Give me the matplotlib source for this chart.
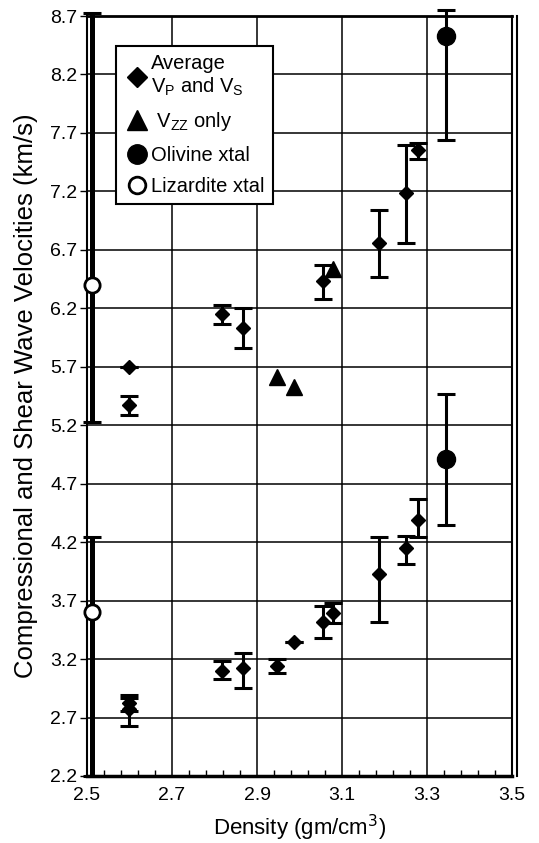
import numpy as np
import matplotlib.pyplot as plt
from matplotlib.lines import Line2D
from matplotlib.ticker import FixedLocator

plt.rcParams['font.family'] = ['Liberation Sans', 'DejaVu Sans']

# --- Average of Vp and Vs (diamonds), error bars as (lower, upper) ---
avg_density = [2.599, 2.599, 2.818, 2.867, 3.055, 3.187, 3.251, 3.279,
               2.599, 2.599, 2.818, 2.867, 2.947, 2.987, 3.055, 3.079, 3.187, 3.251, 3.279]
avg_vel     = [5.70, 5.37, 6.15, 6.03, 6.43, 6.76, 7.19, 7.55,
               2.82, 2.77, 3.10, 3.12, 3.14, 3.35, 3.52, 3.59, 3.93, 4.15, 4.39]
avg_err_lo  = [0.0, 0.08, 0.08, 0.17, 0.15, 0.29, 0.43, 0.07,
               0.06, 0.14, 0.07, 0.17, 0.06, 0.0, 0.14, 0.08, 0.41, 0.14, 0.15]
avg_err_hi  = [0.0, 0.08, 0.08, 0.17, 0.14, 0.28, 0.41, 0.06,
               0.07, 0.10, 0.08, 0.13, 0.06, 0.0, 0.13, 0.09, 0.31, 0.10, 0.18]

# --- Vzz only (triangles) ---
vzz_density = [2.947, 2.987, 3.079]
vzz_vel     = [5.61, 5.53, 6.54]

# --- Olivine crystal ---
oliv_density = [3.345, 3.345]
oliv_vel     = [8.53, 4.91]
oliv_err_lo  = [0.89, 0.56]
oliv_err_hi  = [0.22, 0.56]

# --- Lizardite crystal ---
liz_density = [2.512, 2.512]
liz_vel     = [6.40, 3.60]
liz_err_lo  = [1.17, 1.40]
liz_err_hi  = [2.33, 0.64]

# axis ticks
x_ticks = [2.5, 2.7, 2.9, 3.1, 3.3, 3.5]
y_ticks = [2.2, 2.7, 3.2, 3.7, 4.2, 4.7, 5.2, 5.7, 6.2, 6.7, 7.2, 7.7, 8.2, 8.7]

fig = plt.figure(figsize=(5.39, 8.43), dpi=100)
ax = fig.add_axes([0.1614, 0.0795, 0.7886, 0.9015])

ax.set_xlim(2.5, 3.5)
ax.set_ylim(2.2, 8.7)
ax.xaxis.set_major_locator(FixedLocator(x_ticks))
ax.xaxis.set_minor_locator(FixedLocator(np.arange(2.5, 3.501, 0.04)))
ax.yaxis.set_major_locator(FixedLocator(y_ticks))
ax.grid(True, which='major', color='black', linewidth=1.1, zorder=0)
ax.set_axisbelow(True)

ebar = dict(fmt='none', ecolor='black', elinewidth=2.2, capsize=6.5, capthick=2.2, zorder=3)

ax.errorbar(liz_density, liz_vel, yerr=[liz_err_lo, liz_err_hi], clip_on=False,
            **dict(ebar, elinewidth=3.6))
ax.errorbar(avg_density, avg_vel, yerr=[avg_err_lo, avg_err_hi], **ebar)
ax.errorbar(oliv_density, oliv_vel, yerr=[oliv_err_lo, oliv_err_hi], clip_on=False, **ebar)

ax.plot(avg_density, avg_vel, 'D', color='black', ms=7.5, zorder=4, linestyle='none')
ax.plot(vzz_density, vzz_vel, '^', color='black', ms=12, zorder=4, linestyle='none')
ax.plot(oliv_density, oliv_vel, 'o', color='black', ms=13, zorder=4, linestyle='none')
ax.plot(liz_density, liz_vel, 'o', mfc='white', mec='black', mew=2, ms=11,
        zorder=4, linestyle='none', clip_on=False)

for s in ax.spines.values():
    s.set_linewidth(1.5)
ax.spines['bottom'].set_linewidth(2.5)
ax.spines['top'].set_linewidth(2)
# outer line of the double frame on the right
ax.add_line(Line2D([1.012, 1.012], [0, 1.0], transform=ax.transAxes,
                   color='black', linewidth=1.5, clip_on=False))

ax.tick_params(axis='y', which='major', direction='out', length=5, width=1,
               labelsize=14, pad=2)
ax.tick_params(axis='x', which='major', direction='in', length=0, labelsize=14, pad=8)
ax.tick_params(axis='x', which='minor', direction='in', length=4, width=1)
ax.set_xticklabels([f'{v:.1f}' for v in x_ticks])
ax.set_yticklabels([f'{v:.1f}' for v in y_ticks])

ax.set_xlabel('Density (gm/cm$^3$)', fontsize=16, labelpad=6)
ax.set_ylabel('Compressional and Shear Wave Velocities (km/s)', fontsize=18.5, labelpad=9)

handles = [
    Line2D([], [], marker='D', color='black', ms=10, linestyle='none'),
    Line2D([], [], marker='^', color='black', ms=15, linestyle='none'),
    Line2D([], [], marker='o', color='black', ms=14, linestyle='none'),
    Line2D([], [], marker='o', mfc='white', mec='black', mew=2, ms=12, linestyle='none'),
]
labels = ['Average\nV$_\\mathregular{P}$ and V$_\\mathregular{S}$',
          ' V$_\\mathregular{ZZ}$ only', 'Olivine xtal', 'Lizardite xtal']
leg = ax.legend(handles, labels, loc='upper left', bbox_to_anchor=(0.068, 0.961),
                fontsize=14.5, frameon=True, fancybox=False, framealpha=1,
                edgecolor='black', handletextpad=0.05, handlelength=1.3,
                borderpad=0.4, labelspacing=0.6, borderaxespad=0)
leg.get_frame().set_linewidth(1.5)
leg.set_zorder(5)

fig.savefig('out.png', dpi=100)
